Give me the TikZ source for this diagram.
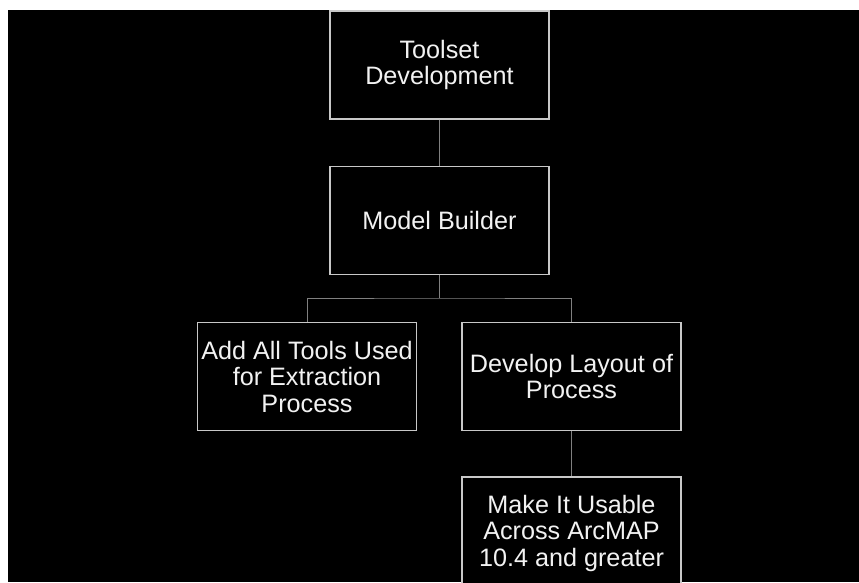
\documentclass[tikz,border=0pt]{standalone}
\usepackage{fontspec}
\setmainfont{Liberation Sans}
\definecolor{boxline}{HTML}{C8C8C8}
\definecolor{conn}{HTML}{808080}
\definecolor{txt}{HTML}{F2F2F2}
\begin{document}
\begin{tikzpicture}[x=1pt,y=1pt,
  box/.style={draw=boxline, line width=1.4pt, fill=black, minimum width=219pt, minimum height=108pt,
    inner sep=0pt, align=center, text=txt, font=\fontsize{25.2}{26.5}\selectfont},
  link/.style={draw=conn, line width=1pt}]
\useasboundingbox (0,0) rectangle (859,-582);
\fill[white] (0,0) rectangle (859,-582);
\fill[black] (8,-10) rectangle (859,-582);
\begin{scope}
\clip (8,-10) rectangle (859,-582);
\node[box] (top) at (439.5,-65) {Toolset\\Development};
\node[box] (model) at (439.5,-220.5) {Model Builder};
\node[box] (left) at (307,-376.5) {Add All Tools Used\\for Extraction\\Process};
\node[box] (right) at (571.5,-376.5) {Develop Layout of\\Process};
\node[box, minimum height=112pt] (bottom) at (571.5,-533) {Make It Usable\\Across ArcMAP\\10.4 and greater};
\coordinate (j) at (439.5,-298);
\draw[link] (top.south) -- (model.north);
\draw[link] (model.south) -- (j);
\draw[link] (left.north) |- (j) -| (right.north);
\draw[link] (right.south) -- (bottom.north);
\end{scope}
\end{tikzpicture}
\end{document}
